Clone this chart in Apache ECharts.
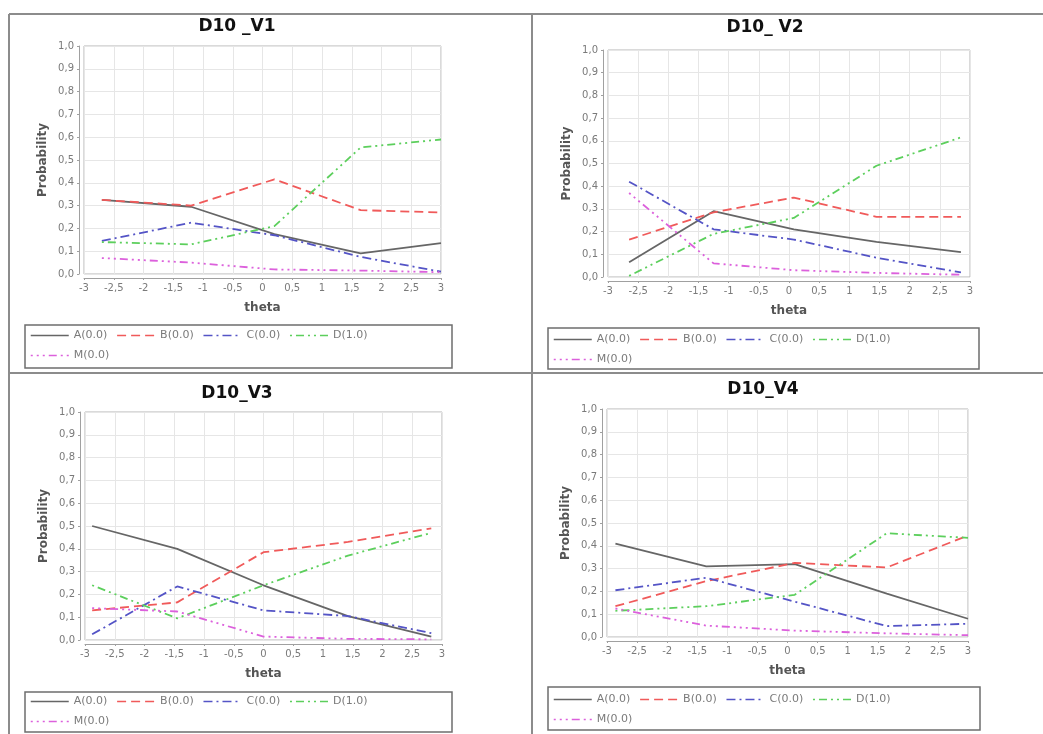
<!DOCTYPE html>
<html>
<head>
<meta charset="utf-8">
<script src="https://cdn.jsdelivr.net/npm/echarts@6/dist/echarts.min.js"></script>
<style>
    html, body {
        margin: 0;
        padding: 0;
        background: #fff;
    }
    #chart {
        width: 1043px;
        height: 734px;
    }
</style>
</head>
<body>
<div id="chart"></div>
<script>
// names and titles
const titleList = ["D10 _V1", "D10_ V2", "D10_V3", "D10_V4"];
const nameList = ["A(0.0)", "B(0.0)", "C(0.0)", "D(1.0)", "M(0.0)"];
const xTicks = [-3, -2.5, -2, -1.5, -1, -0.5, 0, 0.5, 1, 1.5, 2, 2.5, 3];
const yTicks = [0, 0.1, 0.2, 0.3, 0.4, 0.5, 0.6, 0.7, 0.8, 0.9, 1.0];

// D10_V1
const thetaV1 = [-2.7, -1.2, 0.2, 1.65, 3.0];
const v1A = [0.325, 0.295, 0.175, 0.09, 0.135];
const v1B = [0.325, 0.3, 0.415, 0.28, 0.27];
const v1C = [0.145, 0.225, 0.17, 0.075, 0.01];
const v1D = [0.14, 0.13, 0.21, 0.555, 0.59];
const v1M = [0.07, 0.05, 0.02, 0.015, 0.008];

// D10_V2
const thetaV2 = [-2.65, -1.25, 0.08, 1.45, 2.85];
const v2A = [0.065, 0.29, 0.21, 0.155, 0.11];
const v2B = [0.165, 0.285, 0.35, 0.265, 0.265];
const v2C = [0.42, 0.21, 0.165, 0.085, 0.02];
const v2D = [0.005, 0.19, 0.26, 0.49, 0.615];
const v2M = [0.37, 0.06, 0.03, 0.018, 0.01];

// D10_V3
const thetaV3 = [-2.88, -1.45, 0.0, 1.42, 2.82];
const v3A = [0.5, 0.4, 0.24, 0.105, 0.015];
const v3B = [0.13, 0.165, 0.385, 0.43, 0.49];
const v3C = [0.025, 0.235, 0.13, 0.105, 0.03];
const v3D = [0.24, 0.095, 0.24, 0.37, 0.47];
const v3M = [0.14, 0.125, 0.015, 0.005, 0.003];

// D10_V4
const thetaV4 = [-2.86, -1.35, 0.12, 1.65, 3.0];
const v4A = [0.41, 0.31, 0.32, 0.19, 0.08];
const v4B = [0.135, 0.245, 0.325, 0.305, 0.445];
const v4C = [0.205, 0.26, 0.155, 0.048, 0.058];
const v4D = [0.115, 0.135, 0.185, 0.455, 0.435];
const v4M = [0.125, 0.05, 0.028, 0.016, 0.008];

const panelList = [
    { theta: thetaV1, values: [v1A, v1B, v1C, v1D, v1M] },
    { theta: thetaV2, values: [v2A, v2B, v2C, v2D, v2M] },
    { theta: thetaV3, values: [v3A, v3B, v3C, v3D, v3M] },
    { theta: thetaV4, values: [v4A, v4B, v4C, v4D, v4M] },
];

const colorList = ["#666666", "#f05a5a", "#5454c6", "#5ccf5c", "#dc60dc"];
const dashList = [
    "solid",
    [9, 5],
    [9, 4, 2, 4],
    [2, 4, 8, 4, 2, 4],
    [2, 4, 2, 4, 2, 4, 8, 4],
];

// layout of each panel
const gridPos = [
    { left: 84, top: 46, width: 357, height: 228 },
    { left: 608, top: 50, width: 362, height: 227 },
    { left: 85, top: 412, width: 357, height: 228 },
    { left: 607, top: 409, width: 361, height: 228 },
];
const titlePos = [
    { left: 237, top: 18 },
    { left: 765, top: 19 },
    { left: 237, top: 385 },
    { left: 763, top: 381 },
];
const legendPos = [
    { left: 30, top: 330, box: [25, 325, 427, 43] },
    { left: 553, top: 334, box: [548, 328, 431, 41] },
    { left: 30, top: 696, box: [25, 692, 427, 40] },
    { left: 553, top: 694, box: [548, 687, 432, 43] },
];

const commaFmt = (v) => String(v).replace(".", ",");

let option = {
    animation: false,
    backgroundColor: "#fff",
    textStyle: { fontFamily: "DejaVu Sans" },
    title: [],
    legend: [],
    grid: [],
    xAxis: [],
    yAxis: [],
    series: [],
    graphic: [],
};

const frameStyle = { stroke: "#8c8c8c", lineWidth: 2 };
option.graphic.push(
    { type: "line", shape: { x1: 9, y1: 14, x2: 1043, y2: 14 }, style: frameStyle },
    { type: "line", shape: { x1: 9, y1: 14, x2: 9, y2: 734 }, style: frameStyle },
    { type: "line", shape: { x1: 532, y1: 14, x2: 532, y2: 734 }, style: frameStyle },
    { type: "line", shape: { x1: 9, y1: 373, x2: 1043, y2: 373 }, style: frameStyle }
);

panelList.forEach((panel, p) => {
    option.title.push({
        text: titleList[p],
        left: titlePos[p].left,
        top: titlePos[p].top,
        textAlign: "center",
        padding: 0,
        textStyle: {
            fontFamily: "DejaVu Sans",
            fontSize: 17,
            fontWeight: "bold",
            color: "#111",
        },
    });
    option.grid.push({
        ...gridPos[p],
        show: true,
        borderColor: "#b4b4b4",
        borderWidth: 1,
        backgroundColor: "#fff",
    });
    option.xAxis.push({
        type: "value",
        gridIndex: p,
        min: xTicks[0],
        max: xTicks[xTicks.length - 1],
        interval: 0.5,
        name: "theta",
        nameLocation: "middle",
        nameGap: 24,
        nameTextStyle: { fontSize: 12, fontWeight: "bold", color: "#555" },
        offset: 4,
        axisLine: { show: true, onZero: false, lineStyle: { color: "#a0a0a0" } },
        axisTick: { show: true, length: 2, lineStyle: { color: "#a0a0a0" } },
        axisLabel: {
            fontSize: 10,
            color: "#7a7a7a",
            margin: 5,
            formatter: commaFmt,
        },
        splitLine: { show: true, lineStyle: { color: "#e6e6e6" } },
    });
    option.yAxis.push({
        type: "value",
        gridIndex: p,
        min: yTicks[0],
        max: yTicks[yTicks.length - 1],
        interval: 0.1,
        name: "Probability",
        nameLocation: "middle",
        nameGap: 30,
        nameTextStyle: { fontSize: 12, fontWeight: "bold", color: "#555" },
        offset: 5,
        axisLine: { show: true, onZero: false, lineStyle: { color: "#a0a0a0" } },
        axisTick: { show: true, length: 2, lineStyle: { color: "#a0a0a0" } },
        axisLabel: {
            fontSize: 10,
            color: "#7a7a7a",
            margin: 5,
            formatter: (v) => v.toFixed(1).replace(".", ","),
        },
        splitLine: { show: true, lineStyle: { color: "#e6e6e6" } },
    });
    nameList.forEach((name, s) => {
        option.series.push({
            name: name,
            type: "line",
            xAxisIndex: p,
            yAxisIndex: p,
            data: panel.theta.map((t, i) => [t, panel.values[s][i]]),
            symbol: "none",
            showSymbol: false,
            itemStyle: { color: colorList[s] },
            lineStyle: { color: colorList[s], width: 1.8, type: dashList[s] },
        });
    });
    option.legend.push({
        data: nameList,
        left: legendPos[p].left,
        top: legendPos[p].top,
        width: 360,
        padding: 0,
        itemGap: 9,
        itemWidth: 38,
        itemHeight: 12,
        selectedMode: false,
        itemStyle: { color: "transparent", borderWidth: 0, opacity: 0 },
        lineStyle: { width: 1.5 },
        textStyle: { fontSize: 11, color: "#7a7a7a", fontFamily: "DejaVu Sans" },
    });
    const b = legendPos[p].box;
    option.graphic.push({
        type: "rect",
        shape: { x: b[0], y: b[1], width: b[2], height: b[3] },
        style: { fill: "none", stroke: "#6e6e6e", lineWidth: 1.5 },
    });
});

const chart = echarts.init(document.getElementById("chart"));
chart.setOption(option);
</script>
</body>
</html>
